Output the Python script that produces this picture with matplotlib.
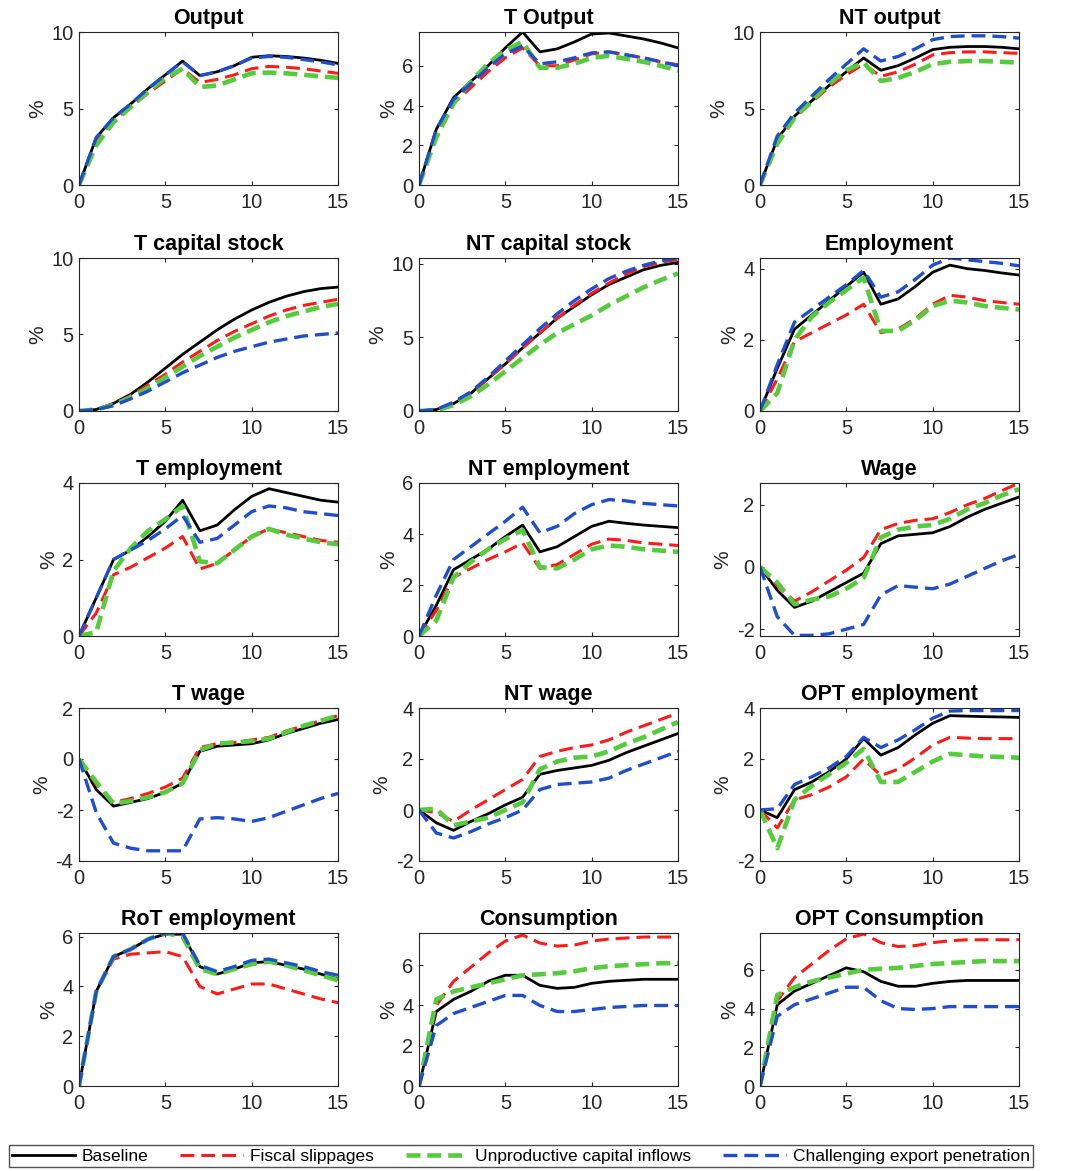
import numpy as np
import matplotlib
matplotlib.use("Agg")
import matplotlib.pyplot as plt

plt.rcParams["font.family"] = ["Liberation Sans", "DejaVu Sans"]
plt.rcParams["lines.scale_dashes"] = False
plt.rcParams["axes.unicode_minus"] = False

quarters = list(range(16))

scenarios = ["Baseline", "Fiscal slippages", "Unproductive capital inflows",
             "Challenging export penetration"]

# Impulse responses, one list per scenario: baseline, fiscal, capital, export
output_base = [0, 3.1, 4.4, 5.3, 6.3, 7.2, 8.1, 7.15, 7.4, 7.8, 8.35, 8.45, 8.4, 8.3, 8.15, 7.95]
output_fisc = [0, 2.9, 4.2, 5.1, 6.0, 6.8, 7.6, 6.7, 6.9, 7.2, 7.6, 7.75, 7.7, 7.6, 7.45, 7.3]
output_cap = [0, 2.6, 4.1, 5.1, 6.1, 7.0, 7.6, 6.4, 6.5, 6.9, 7.3, 7.35, 7.3, 7.2, 7.1, 7.0]
output_exp = [0, 3.1, 4.4, 5.3, 6.3, 7.2, 8.05, 7.15, 7.4, 7.8, 8.3, 8.4, 8.35, 8.2, 8.05, 7.85]

t_output_base = [0, 2.8, 4.4, 5.2, 6.0, 6.9, 7.7, 6.7, 6.85, 7.2, 7.6, 7.65, 7.5, 7.35, 7.15, 6.9]
t_output_fisc = [0, 2.6, 4.1, 4.9, 5.7, 6.4, 6.9, 6.0, 6.0, 6.3, 6.6, 6.7, 6.55, 6.4, 6.2, 6.05]
t_output_cap = [0, 2.4, 4.1, 5.2, 6.1, 6.8, 7.2, 5.9, 5.9, 6.1, 6.4, 6.5, 6.35, 6.2, 6.0, 5.75]
t_output_exp = [0, 2.8, 4.3, 5.1, 5.9, 6.6, 7.0, 6.1, 6.2, 6.4, 6.65, 6.7, 6.55, 6.4, 6.2, 6.0]

nt_output_base = [0, 3.0, 4.5, 5.5, 6.5, 7.4, 8.3, 7.5, 7.8, 8.3, 8.85, 9.0, 9.05, 9.05, 9.0, 8.9]
nt_output_fisc = [0, 2.9, 4.4, 5.4, 6.4, 7.2, 7.9, 7.1, 7.4, 7.9, 8.5, 8.65, 8.7, 8.7, 8.65, 8.6]
nt_output_cap = [0, 2.7, 4.4, 5.5, 6.6, 7.5, 8.0, 6.8, 7.0, 7.4, 7.9, 8.05, 8.1, 8.1, 8.05, 8.0]
nt_output_exp = [0, 3.2, 4.7, 5.8, 6.9, 7.9, 8.9, 8.1, 8.4, 8.9, 9.5, 9.7, 9.75, 9.75, 9.7, 9.6]

t_capital_base = [0, 0.1, 0.5, 1.1, 1.9, 2.8, 3.7, 4.5, 5.3, 6.0, 6.6, 7.1, 7.5, 7.8, 8.0, 8.1]
t_capital_fisc = [0, 0.1, 0.45, 1.0, 1.7, 2.4, 3.2, 3.9, 4.6, 5.2, 5.7, 6.2, 6.6, 6.9, 7.1, 7.3]
t_capital_cap = [0, 0.1, 0.4, 0.9, 1.5, 2.2, 2.9, 3.6, 4.2, 4.8, 5.3, 5.8, 6.2, 6.5, 6.8, 7.0]
t_capital_exp = [0, 0.1, 0.35, 0.8, 1.3, 1.9, 2.5, 3.0, 3.5, 3.9, 4.2, 4.5, 4.7, 4.9, 5.0, 5.1]

nt_capital_base = [0, 0.1, 0.5, 1.2, 2.2, 3.2, 4.3, 5.3, 6.3, 7.1, 7.9, 8.6, 9.1, 9.6, 9.9, 10.1]
nt_capital_fisc = [0, 0.1, 0.5, 1.2, 2.2, 3.2, 4.3, 5.3, 6.3, 7.2, 8.0, 8.7, 9.3, 9.8, 10.1, 10.3]
nt_capital_cap = [0, 0.05, 0.4, 1.0, 1.8, 2.7, 3.6, 4.5, 5.3, 5.9, 6.5, 7.2, 7.8, 8.4, 8.9, 9.35]
nt_capital_exp = [0, 0.1, 0.6, 1.3, 2.3, 3.4, 4.5, 5.6, 6.6, 7.5, 8.3, 9.0, 9.5, 9.9, 10.2, 10.4]

employment_base = [0, 1.2, 2.3, 2.7, 3.1, 3.5, 3.9, 3.0, 3.15, 3.5, 3.9, 4.1, 4.0, 3.95, 3.88, 3.82]
employment_fisc = [0, 0.9, 1.95, 2.2, 2.45, 2.7, 3.0, 2.2, 2.3, 2.6, 3.0, 3.25, 3.2, 3.1, 3.05, 3.0]
employment_cap = [0, 0.5, 2.0, 2.65, 3.05, 3.4, 3.75, 2.25, 2.25, 2.55, 2.95, 3.1, 3.05, 2.95, 2.9, 2.85]
employment_exp = [0, 1.3, 2.5, 2.85, 3.2, 3.55, 3.95, 3.2, 3.35, 3.7, 4.1, 4.3, 4.25, 4.2, 4.15, 4.08]

t_employment_base = [0, 1.0, 2.0, 2.25, 2.6, 3.0, 3.55, 2.75, 2.9, 3.3, 3.65, 3.85, 3.75, 3.65, 3.55, 3.5]
t_employment_fisc = [0, 0.6, 1.6, 1.8, 2.05, 2.3, 2.6, 1.75, 1.9, 2.25, 2.6, 2.8, 2.7, 2.6, 2.5, 2.45]
t_employment_cap = [0, 0.1, 1.7, 2.3, 2.75, 3.05, 3.4, 1.95, 1.9, 2.25, 2.6, 2.8, 2.65, 2.55, 2.45, 2.4]
t_employment_exp = [0, 1.0, 2.0, 2.25, 2.5, 2.8, 3.15, 2.45, 2.55, 2.9, 3.25, 3.4, 3.35, 3.25, 3.2, 3.15]

nt_employment_base = [0, 1.2, 2.6, 3.0, 3.4, 3.9, 4.35, 3.3, 3.5, 3.9, 4.3, 4.5, 4.42, 4.35, 4.3, 4.25]
nt_employment_fisc = [0, 1.0, 2.3, 2.65, 3.0, 3.3, 3.65, 2.65, 2.8, 3.2, 3.6, 3.8, 3.75, 3.65, 3.6, 3.55]
nt_employment_cap = [0, 0.6, 2.3, 2.9, 3.4, 3.8, 4.15, 2.7, 2.65, 3.0, 3.4, 3.55, 3.5, 3.4, 3.35, 3.3]
nt_employment_exp = [0, 1.6, 3.0, 3.5, 4.0, 4.5, 5.05, 4.05, 4.3, 4.8, 5.15, 5.35, 5.3, 5.2, 5.15, 5.1]

wage_base = [0, -0.75, -1.3, -1.1, -0.8, -0.5, -0.2, 0.75, 1.0, 1.05, 1.1, 1.3, 1.6, 1.85, 2.05, 2.25]
wage_fisc = [0, -0.6, -1.1, -0.8, -0.45, -0.1, 0.3, 1.2, 1.4, 1.5, 1.55, 1.75, 2.0, 2.2, 2.45, 2.7]
wage_cap = [0, -0.5, -1.2, -1.05, -0.95, -0.7, -0.35, 0.95, 1.2, 1.3, 1.35, 1.55, 1.85, 2.05, 2.3, 2.5]
wage_exp = [0, -1.6, -2.2, -2.2, -2.15, -2.0, -1.85, -0.9, -0.6, -0.65, -0.7, -0.55, -0.3, -0.05, 0.2, 0.4]

t_wage_base = [0, -1.2, -1.85, -1.7, -1.55, -1.3, -0.95, 0.3, 0.5, 0.55, 0.6, 0.75, 1.0, 1.2, 1.4, 1.55]
t_wage_fisc = [0, -1.0, -1.7, -1.55, -1.35, -1.1, -0.75, 0.45, 0.6, 0.65, 0.75, 0.85, 1.1, 1.3, 1.5, 1.7]
t_wage_cap = [0, -0.9, -1.75, -1.65, -1.5, -1.3, -0.95, 0.35, 0.6, 0.65, 0.7, 0.8, 1.05, 1.3, 1.5, 1.7]
t_wage_exp = [0, -2.1, -3.3, -3.5, -3.6, -3.6, -3.6, -2.35, -2.3, -2.35, -2.45, -2.3, -2.05, -1.8, -1.55, -1.35]

nt_wage_base = [0, -0.5, -0.8, -0.45, -0.15, 0.2, 0.5, 1.4, 1.55, 1.65, 1.75, 1.95, 2.25, 2.5, 2.75, 3.0]
nt_wage_fisc = [0, -0.1, -0.45, 0.0, 0.4, 0.8, 1.2, 2.1, 2.3, 2.45, 2.55, 2.75, 3.05, 3.3, 3.55, 3.8]
nt_wage_cap = [0, 0.05, -0.6, -0.45, -0.3, 0.0, 0.3, 1.6, 1.9, 2.05, 2.1, 2.3, 2.6, 2.85, 3.15, 3.45]
nt_wage_exp = [0, -0.9, -1.1, -0.85, -0.55, -0.3, 0.0, 0.8, 1.0, 1.05, 1.1, 1.25, 1.55, 1.8, 2.05, 2.3]

opt_employment_base = [0, -0.3, 0.8, 1.1, 1.5, 2.0, 2.8, 2.15, 2.45, 2.95, 3.4, 3.7, 3.68, 3.66, 3.65, 3.63]
opt_employment_fisc = [0, -0.7, 0.4, 0.6, 0.9, 1.3, 2.0, 1.35, 1.6, 2.05, 2.55, 2.85, 2.82, 2.8, 2.8, 2.8]
opt_employment_cap = [0, -1.5, 0.4, 0.95, 1.4, 1.85, 2.4, 1.1, 1.1, 1.5, 1.9, 2.2, 2.15, 2.1, 2.08, 2.05]
opt_employment_exp = [0, 0.05, 1.0, 1.3, 1.65, 2.1, 2.85, 2.45, 2.75, 3.15, 3.6, 3.88, 3.9, 3.9, 3.9, 3.9]

rot_employment_base = [0, 3.8, 5.2, 5.5, 5.9, 6.1, 6.1, 4.8, 4.5, 4.7, 4.95, 5.0, 4.85, 4.7, 4.5, 4.3]
rot_employment_fisc = [0, 3.8, 5.1, 5.3, 5.35, 5.4, 5.2, 4.0, 3.7, 3.9, 4.1, 4.1, 3.9, 3.7, 3.5, 3.35]
rot_employment_cap = [0, 3.8, 5.2, 5.5, 5.9, 6.15, 6.0, 4.7, 4.5, 4.7, 4.9, 5.0, 4.85, 4.65, 4.45, 4.25]
rot_employment_exp = [0, 3.8, 5.2, 5.5, 5.9, 6.15, 6.15, 4.85, 4.6, 4.8, 5.05, 5.1, 4.95, 4.8, 4.6, 4.45]

consumption_base = [0, 3.7, 4.3, 4.7, 5.2, 5.5, 5.5, 5.0, 4.85, 4.9, 5.1, 5.2, 5.25, 5.3, 5.3, 5.3]
consumption_fisc = [0, 4.0, 5.2, 5.9, 6.6, 7.2, 7.5, 7.1, 6.95, 7.0, 7.2, 7.3, 7.35, 7.4, 7.4, 7.4]
consumption_cap = [0, 4.3, 4.7, 4.9, 5.1, 5.3, 5.5, 5.55, 5.6, 5.7, 5.85, 5.95, 6.0, 6.05, 6.1, 6.1]
consumption_exp = [0, 3.0, 3.6, 3.9, 4.2, 4.5, 4.5, 4.0, 3.7, 3.7, 3.8, 3.9, 3.95, 4.0, 4.0, 4.0]

opt_consumption_base = [0, 4.2, 4.9, 5.3, 5.7, 6.1, 5.9, 5.4, 5.15, 5.15, 5.3, 5.4, 5.45, 5.45, 5.45, 5.45]
opt_consumption_fisc = [0, 4.4, 5.6, 6.3, 7.0, 7.6, 7.85, 7.4, 7.2, 7.25, 7.4, 7.5, 7.55, 7.55, 7.55, 7.55]
opt_consumption_cap = [0, 4.7, 5.1, 5.4, 5.6, 5.8, 6.0, 6.05, 6.1, 6.2, 6.3, 6.35, 6.4, 6.45, 6.45, 6.45]
opt_consumption_exp = [0, 3.6, 4.2, 4.5, 4.8, 5.1, 5.1, 4.4, 4.0, 3.95, 4.0, 4.1, 4.1, 4.1, 4.1, 4.1]

panels = [
    ("Output", [output_base, output_fisc, output_cap, output_exp], (0, 10), [0, 5, 10]),
    ("T Output", [t_output_base, t_output_fisc, t_output_cap, t_output_exp], (0, 7.7), [0, 2, 4, 6]),
    ("NT output", [nt_output_base, nt_output_fisc, nt_output_cap, nt_output_exp], (0, 10), [0, 5, 10]),
    ("T capital stock", [t_capital_base, t_capital_fisc, t_capital_cap, t_capital_exp], (0, 10), [0, 5, 10]),
    ("NT capital stock", [nt_capital_base, nt_capital_fisc, nt_capital_cap, nt_capital_exp], (0, 10.4), [0, 5, 10]),
    ("Employment", [employment_base, employment_fisc, employment_cap, employment_exp], (0, 4.3), [0, 2, 4]),
    ("T employment", [t_employment_base, t_employment_fisc, t_employment_cap, t_employment_exp], (0, 4), [0, 2, 4]),
    ("NT employment", [nt_employment_base, nt_employment_fisc, nt_employment_cap, nt_employment_exp], (0, 6), [0, 2, 4, 6]),
    ("Wage", [wage_base, wage_fisc, wage_cap, wage_exp], (-2.22, 2.7), [-2, 0, 2]),
    ("T wage", [t_wage_base, t_wage_fisc, t_wage_cap, t_wage_exp], (-4, 2), [-4, -2, 0, 2]),
    ("NT wage", [nt_wage_base, nt_wage_fisc, nt_wage_cap, nt_wage_exp], (-2, 4), [-2, 0, 2, 4]),
    ("OPT employment", [opt_employment_base, opt_employment_fisc, opt_employment_cap, opt_employment_exp], (-2, 4), [-2, 0, 2, 4]),
    ("RoT employment", [rot_employment_base, rot_employment_fisc, rot_employment_cap, rot_employment_exp], (0, 6.15), [0, 2, 4, 6]),
    ("Consumption", [consumption_base, consumption_fisc, consumption_cap, consumption_exp], (0, 7.6), [0, 2, 4, 6]),
    ("OPT Consumption", [opt_consumption_base, opt_consumption_fisc, opt_consumption_cap, opt_consumption_exp], (0, 7.9), [0, 2, 4, 6]),
]

styles = [
    dict(color="black", lw=2.0, ls="-"),
    dict(color="#ff1a1a", lw=2.2, dashes=(10, 5)),
    dict(color="#55cc3c", lw=3.3, dashes=(10, 5)),
    dict(color="#1f4fd0", lw=2.4, dashes=(10, 5)),
]

fig = plt.figure(figsize=(10.65, 11.71), dpi=100)

col_left = [79, 419, 760]
row_bottom = [185, 411, 636, 861, 1086]
ax_w, ax_h = 259, 153
W, H = 1065, 1171

handles = []
for i, (title, series, ylim, yticks) in enumerate(panels):
    r, c = divmod(i, 3)
    ax = fig.add_axes([col_left[c] / W, 1 - row_bottom[r] / H, ax_w / W, ax_h / H])
    for s, st in zip(series, styles):
        ln, = ax.plot(quarters, s, **st)
        if i == 0:
            handles.append(ln)
    ax.set_xlim(0, 15)
    ax.set_ylim(*ylim)
    ax.set_xticks([0, 5, 10, 15])
    ax.set_yticks(yticks)
    ax.tick_params(direction="in", length=3, labelsize=14.5, colors="#262626",
                   top=True, right=True)
    ax.tick_params(axis="x", pad=6)
    ax.tick_params(axis="y", pad=4)
    for sp in ax.spines.values():
        sp.set_color("#262626")
        sp.set_linewidth(0.8)
    ax.set_title(title, fontsize=15.5, fontweight="bold", pad=6)
    ax.set_ylabel("%", fontsize=15, labelpad=3, color="#262626")

fig.legend(handles, scenarios, loc="center", ncol=4,
           bbox_to_anchor=(521 / W, 1 - 1156 / H), fontsize=12.5,
           frameon=True, fancybox=False, edgecolor="#262626",
           handlelength=3.6, columnspacing=1.85, borderpad=0.2,
           handletextpad=0.4, borderaxespad=0)

fig.savefig("out.png", dpi=100)
